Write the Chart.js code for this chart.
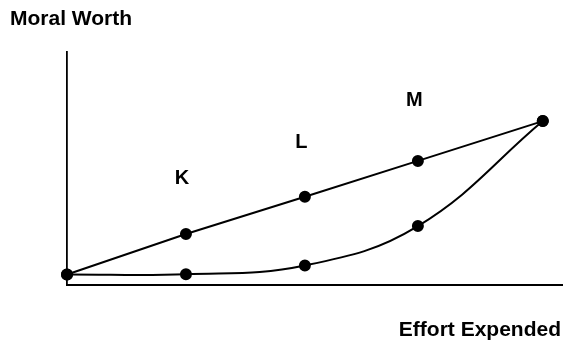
<!DOCTYPE html>
<html>
<head>
<meta charset="utf-8">
<script src="https://cdn.jsdelivr.net/npm/chart.js@4.4.1/dist/chart.umd.min.js"></script>
<style>
  html, body { margin: 0; padding: 0; background: #fff; }
  #wrap { width: 563px; height: 344px; position: relative; }
</style>
</head>
<body>
<div id="wrap"><canvas id="moralChart"></canvas></div>
<script>
// effort expended (x) and moral worth (y)
const effort = [0, 1, 2, 2.95, 4];
const straightWorth = [0.45, 2.19, 3.79, 5.33, 7.04];
const curvedWorth = [0.45, 0.46, 0.84, 2.53, 7.04];

// point labels K, L, M placed in data units
const markLabels = ["K", "L", "M"];
const markX = [0.966, 1.97, 2.92];
const markY = [4.57, 6.12, 7.92];

const yTitle = "Moral Worth";
const xTitle = "Effort Expended";

const FONT = "'Liberation Sans', Arial, sans-serif";

const labelPlugin = {
  id: "labelPlugin",
  afterDraw(chart) {
    const ctx = chart.ctx;
    const xs = chart.scales.x;
    const ys = chart.scales.y;
    ctx.save();
    ctx.fillStyle = "#000";
    ctx.font = "bold 20px " + FONT;
    ctx.textAlign = "center";
    ctx.textBaseline = "middle";
    markLabels.forEach((txt, i) => {
      ctx.fillText(txt, xs.getPixelForValue(markX[i]), ys.getPixelForValue(markY[i]));
    });
    // x-axis title sits under the right end of the axis
    ctx.font = "bold 21px " + FONT;
    ctx.textAlign = "right";
    ctx.fillText(xTitle, chart.chartArea.right - 2, 330);
    ctx.restore();
  },
};

const ctx = document.getElementById("moralChart").getContext("2d");
new Chart(ctx, {
  type: "line",
  data: {
    datasets: [
      {
        data: effort.map((x, i) => ({ x: x, y: straightWorth[i] })),
        borderColor: "#000",
        backgroundColor: "#000",
        borderWidth: 2,
        pointRadius: 5,
        pointBackgroundColor: "#000",
        tension: 0,
        fill: false,
      },
      {
        data: effort.map((x, i) => ({ x: x, y: curvedWorth[i] })),
        borderColor: "#000",
        backgroundColor: "#000",
        borderWidth: 2,
        pointRadius: 5,
        pointBackgroundColor: "#000",
        tension: 0.4,
        fill: false,
      },
    ],
  },
  options: {
    responsive: true,
    maintainAspectRatio: false,
    animation: false,
    clip: false,
    layout: { autoPadding: false, padding: { left: 10, right: 0, top: 0, bottom: 0 } },
    scales: {
      x: {
        type: "linear",
        min: 0,
        max: 4.17,
        grid: { display: false },
        ticks: { display: false },
        border: { display: true, color: "#000", width: 2 },
        afterFit: (scale) => { scale.height = 59; },
      },
      y: {
        min: 0,
        max: 10,
        grid: { display: false },
        ticks: { display: false },
        border: { display: true, color: "#000", width: 1.8 },
        afterFit: (scale) => { scale.width = 57; },
      },
    },
    plugins: {
      legend: { display: false },
      tooltip: { enabled: false },
      title: {
        display: true,
        text: yTitle,
        align: "start",
        color: "#000",
        font: { family: FONT, size: 21, weight: "bold" },
        padding: { top: 7, bottom: 20 },
      },
    },
  },
  plugins: [labelPlugin],
});
</script>
</body>
</html>
